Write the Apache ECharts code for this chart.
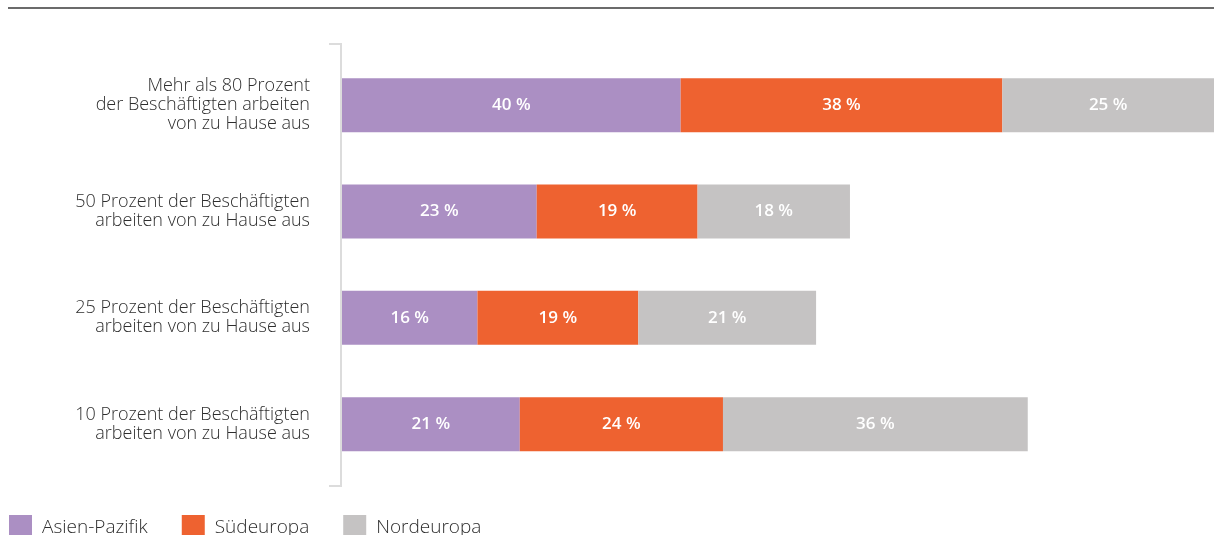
<!DOCTYPE html>
<html>
<head>
<meta charset="utf-8">
<script src="https://cdn.jsdelivr.net/npm/echarts@6/dist/echarts.min.js"></script>
<style>
  html, body { margin: 0; padding: 0; background: #fff; }
  #chart { width: 1214px; height: 535px; }
</style>
</head>
<body>
<div id="chart"></div>
<script>
// Share of respondents per region, by how much of the workforce works from home
const categories = [
  'Mehr als 80 Prozent\nder Beschäftigten arbeiten\nvon zu Hause aus',
  '50 Prozent der Beschäftigten\narbeiten von zu Hause aus',
  '25 Prozent der Beschäftigten\narbeiten von zu Hause aus',
  '10 Prozent der Beschäftigten\narbeiten von zu Hause aus'
];
const seriesNames = ['Asien-Pazifik', 'Südeuropa', 'Nordeuropa'];
const asienPazifik = [40, 23, 16, 21];
const suedeuropa = [38, 19, 19, 24];
const nordeuropa = [25, 18, 21, 36];
const colors = ['#ab8fc3', '#ee6230', '#c5c3c3'];

const FONT = '"Open Sans", sans-serif';

const chart = echarts.init(document.getElementById('chart'), null, { renderer: 'canvas' });

function barSeries(name, data, color) {
  return {
    name: name,
    type: 'bar',
    stack: 'total',
    data: data,
    barWidth: 54,
    itemStyle: { color: color },
    label: {
      show: true,
      position: 'inside',
      formatter: '{c} %',
      color: '#ffffff',
      fontFamily: FONT,
      fontSize: 17,
      fontWeight: 600
    },
    emphasis: { disabled: true }
  };
}

// fixed-width legend text boxes keep the legend entries evenly spread
const legendText = {
  fontFamily: FONT, fontSize: 19, fontWeight: 300, color: '#2e2e2e'
};
const legendTextBox = Object.assign({ padding: [2, 0, 0, 5] }, legendText);
const legendRich = {
  t0: Object.assign({ width: 111 }, legendTextBox),
  t1: Object.assign({ width: 76 }, legendTextBox),
  t2: Object.assign({ width: 100 }, legendTextBox)
};

chart.setOption({
  animation: false,
  color: colors,
  grid: { left: 342, right: -4, top: 52, height: 425.3, containLabel: false },
  xAxis: {
    type: 'value',
    min: 0,
    max: 103,
    show: false
  },
  yAxis: {
    type: 'category',
    inverse: true,
    data: categories,
    axisLine: { show: false },
    axisTick: { show: false },
    axisLabel: {
      margin: 32,
      align: 'right',
      color: '#2e2e2e',
      fontFamily: FONT,
      fontSize: 18,
      fontWeight: 300,
      lineHeight: 19
    }
  },
  legend: {
    left: 9,
    top: 515,
    padding: 0,
    itemWidth: 23,
    itemHeight: 23,
    itemGap: 34,
    icon: 'rect',
    data: seriesNames,
    formatter: name => '{t' + seriesNames.indexOf(name) + '|' + name + '}',
    textStyle: Object.assign({ rich: legendRich }, legendText)
  },
  graphic: [
    {
      type: 'line',
      shape: { x1: 8, y1: 8, x2: 1214, y2: 8 },
      style: { stroke: '#3a3a3a', lineWidth: 1.5 }
    },
    {
      type: 'polyline',
      shape: { points: [[329, 44], [341, 44], [341, 486], [329, 486]] },
      style: { stroke: '#dcdcdc', lineWidth: 2, fill: null }
    }
  ],
  series: [
    barSeries(seriesNames[0], asienPazifik, colors[0]),
    barSeries(seriesNames[1], suedeuropa, colors[1]),
    barSeries(seriesNames[2], nordeuropa, colors[2])
  ]
});
</script>
</body>
</html>
